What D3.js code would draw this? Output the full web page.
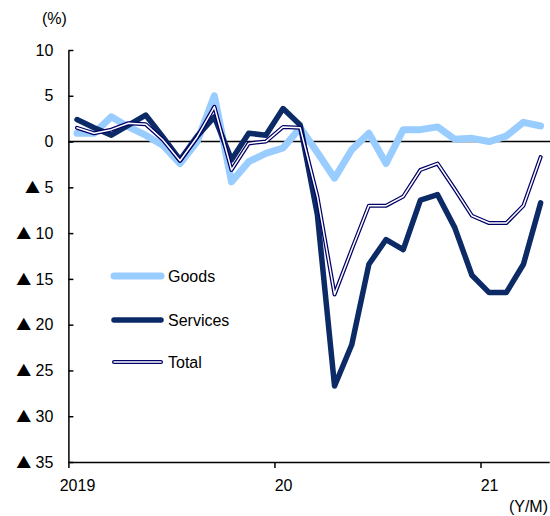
<!DOCTYPE html>
<html>
<head>
<meta charset="utf-8">
<script src="https://cdn.jsdelivr.net/npm/d3@7"></script>
<style>
  body { margin: 0; background: #fff; }
  text { font-family: "Liberation Sans", Arial, sans-serif; fill: #000; }
</style>
</head>
<body>
<svg width="550" height="516"></svg>
<script>
// monthly, Jan 2019 .. Apr 2021
var months = d3.range(28);
var goods    = [0.9, 0.9, 2.7, 1.6, 0.7, -0.4, -2.4, 0.0, 5.0, -4.4, -2.2, -1.3, -0.7, 1.5, -1.2, -4.0, -0.9, 0.9, -2.4, 1.3, 1.3, 1.6, 0.25, 0.35, 0.0, 0.6, 2.1, 1.7];
var services = [2.4, 1.5, 0.7, 1.8, 2.9, 0.5, -2.0, 0.6, 2.7, -2.0, 0.9, 0.7, 3.6, 1.8, -8.0, -26.7, -22.2, -13.4, -10.7, -11.8, -6.4, -5.8, -9.4, -14.6, -16.5, -16.5, -13.4, -6.7];
var total    = [1.5, 0.9, 1.3, 2.0, 1.9, 0.2, -2.1, 0.5, 3.8, -3.1, -0.2, 0.0, 1.6, 1.5, -6.0, -16.7, -11.8, -7.0, -7.0, -6.0, -3.1, -2.4, -5.2, -8.1, -8.9, -8.9, -7.0, -1.7];
var yTicks = [10, 5, 0, -5, -10, -15, -20, -25, -30, -35];
var xTicks = [0, 12, 24];
var xLabels = ["2019", "20", "21"];

var svg = d3.select("svg");

var x = d3.scaleLinear().domain([0, 28]).range([68.4, 549.2]);
var y = d3.scaleLinear().domain([-35, 10]).range([462, 50]);

// y axis
var yAxis = d3.axisLeft(y)
  .tickValues(yTicks)
  .tickSizeInner(-5)
  .tickSizeOuter(0)
  .tickPadding(15)
  .tickFormat("");

var gy = svg.append("g")
  .attr("transform", "translate(68.4,0)")
  .call(yAxis);
gy.select(".domain").attr("stroke", "#000").attr("stroke-width", 1.5);
gy.selectAll(".tick line").attr("stroke", "#000").attr("stroke-width", 1.5);

// labels: negatives marked with a triangle
var ylab = gy.selectAll(".tick text")
  .attr("x", -15)
  .style("font-size", "16px");
ylab.each(function(d) {
  var t = d3.select(this);
  if (d < 0) {
    t.append("tspan").style("font-family", "'Noto Sans CJK JP', sans-serif").style("font-size", "15px").text("\u25B2");
    t.append("tspan").text(" " + (-d));
  } else {
    t.text(d);
  }
});

// x axis
var xAxis = d3.axisBottom(x)
  .tickValues(xTicks)
  .tickSizeInner(6)
  .tickSizeOuter(0)
  .tickPadding(12)
  .tickFormat(function(d, i) { return xLabels[i]; });

var gx = svg.append("g")
  .attr("transform", "translate(0,462)")
  .call(xAxis);
gx.select(".domain").attr("stroke", "#000").attr("stroke-width", 1.5);
gx.selectAll(".tick line").attr("stroke", "#000").attr("stroke-width", 1.5);
gx.selectAll(".tick text")
  .style("font-size", "16px")
  .attr("x", x(0.5) - x(0));

// zero line
svg.append("line")
  .attr("x1", x(0)).attr("x2", 550)
  .attr("y1", y(0)).attr("y2", y(0))
  .attr("stroke", "#000").attr("stroke-width", 1.5);

var line = d3.line()
  .x(function(d, i) { return x(i + 0.5); })
  .y(function(d) { return y(d); });

svg.append("path").datum(goods)
  .attr("d", line).attr("fill", "none")
  .attr("stroke", "#99ccff").attr("stroke-width", 7)
  .attr("stroke-linejoin", "round").attr("stroke-linecap", "round");

svg.append("path").datum(services)
  .attr("d", line).attr("fill", "none")
  .attr("stroke", "#0b2a66").attr("stroke-width", 5.5)
  .attr("stroke-linejoin", "round").attr("stroke-linecap", "round");

svg.append("path").datum(total)
  .attr("d", line).attr("fill", "none")
  .attr("stroke", "#000066").attr("stroke-width", 4)
  .attr("stroke-linejoin", "round").attr("stroke-linecap", "round");
svg.append("path").datum(total)
  .attr("d", line).attr("fill", "none")
  .attr("stroke", "#fff").attr("stroke-width", 1.5)
  .attr("stroke-linejoin", "round").attr("stroke-linecap", "round");

// legend
var legend = [
  { name: "Goods", color: "#99ccff", w: 7, y: 276 },
  { name: "Services", color: "#0b2a66", w: 5.5, y: 320 },
  { name: "Total", color: "#000066", w: 4, y: 362 }
];
legend.forEach(function(l) {
  svg.append("line")
    .attr("x1", 114).attr("x2", 161).attr("y1", l.y).attr("y2", l.y)
    .attr("stroke", l.color).attr("stroke-width", l.w).attr("stroke-linecap", "round");
  if (l.name === "Total") {
    svg.append("line")
      .attr("x1", 114).attr("x2", 161).attr("y1", l.y).attr("y2", l.y)
      .attr("stroke", "#fff").attr("stroke-width", 1.5).attr("stroke-linecap", "round");
  }
  svg.append("text")
    .attr("x", 168).attr("y", l.y + 6)
    .style("font-size", "16px")
    .text(l.name);
});

svg.append("text").attr("x", 42).attr("y", 24).style("font-size", "16px").text("(%)");
svg.append("text").attr("x", 548).attr("y", 512).attr("text-anchor", "end").style("font-size", "16px").text("(Y/M)");
</script>
</body>
</html>
